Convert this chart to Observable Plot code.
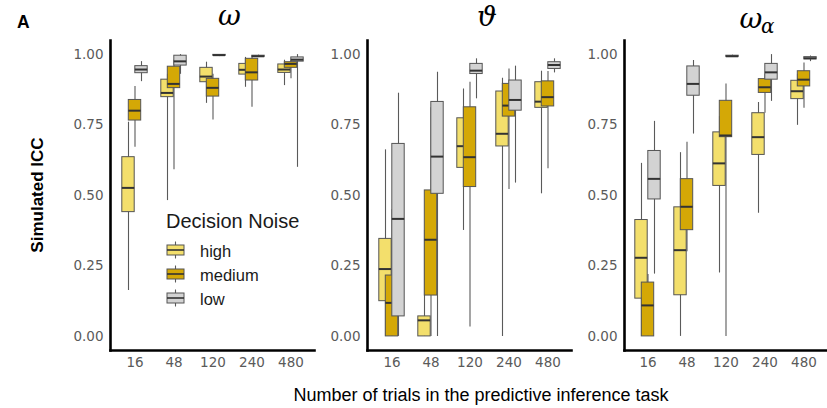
<!DOCTYPE html>
<html>
<head>
<meta charset="utf-8">
<script src="https://cdn.jsdelivr.net/npm/d3@7"></script>
<script src="https://cdn.jsdelivr.net/npm/@observablehq/plot@0.6"></script>
<style>
  body { margin: 0; background: #fff; }
  #chart { position: relative; width: 827px; height: 408px; overflow: hidden; }
  .panel { position: absolute; top: 0; }
  #overlay { position: absolute; left: 0; top: 0; }
</style>
</head>
<body>
<div id="chart">
  <div class="panel" id="p1" style="left:0px"></div>
  <div class="panel" id="p2" style="left:314px"></div>
  <div class="panel" id="p3" style="left:571px"></div>
  <svg id="overlay" width="827" height="408"></svg>
</div>
<script>
// ---- data ----
const trials = ["16", "48", "120", "240", "480"];
const levels = ["high", "medium", "low"];
const levelColors = ["#f3df6c", "#d4a806", "#d3d3d3"];
const yTicks = [0, 0.25, 0.5, 0.75, 1];
const panelTitles = ["ω", "ϑ", "ω"];
const panelSubscripts = ["", "", "α"];
const legendTitle = "Decision Noise";
const yLabel = "Simulated ICC";
const xLabel = "Number of trials in the predictive inference task";
const figureTag = "A";

// five-number summaries per trial: [min, q1, median, q3, max]
const omegaHigh   = [[0.163,0.441,0.527,0.636,0.760],[0.482,0.849,0.864,0.911,0.930],[0.827,0.902,0.922,0.953,0.973],[0.884,0.929,0.946,0.967,0.990],[0.890,0.935,0.947,0.965,0.980]];
const omegaMedium = [[0.671,0.766,0.801,0.839,0.887],[0.591,0.881,0.896,0.957,0.980],[0.768,0.851,0.882,0.914,0.930],[0.813,0.908,0.937,0.985,0.995],[0.914,0.953,0.967,0.973,0.980]];
const omegaLow    = [[0.904,0.934,0.947,0.959,0.975],[0.930,0.961,0.976,0.996,1.000],[0.993,0.996,0.998,0.999,1.000],[0.990,0.992,0.994,0.996,0.998],[0.600,0.975,0.982,0.990,1.000]];

const thetaHigh   = [[0.000,0.125,0.239,0.346,0.662],[0.000,0.000,0.057,0.071,0.376],[0.376,0.598,0.675,0.774,0.878],[0.000,0.674,0.719,0.869,0.916],[0.506,0.811,0.833,0.902,0.941]];
const thetaMedium = [[0.000,0.000,0.119,0.216,0.449],[0.000,0.145,0.343,0.518,0.811],[0.033,0.530,0.636,0.813,0.902],[0.521,0.780,0.819,0.896,0.949],[0.595,0.816,0.849,0.905,0.940]];
const thetaLow    = [[0.000,0.071,0.417,0.683,0.863],[0.000,0.506,0.638,0.832,0.937],[0.843,0.931,0.943,0.967,0.985],[0.544,0.801,0.839,0.908,0.959],[0.935,0.949,0.963,0.973,0.985]];

const alphaHigh   = [[0.000,0.134,0.279,0.413,0.614],[0.000,0.146,0.306,0.458,0.652],[0.225,0.534,0.614,0.724,0.780],[0.437,0.644,0.707,0.792,0.830],[0.749,0.842,0.870,0.907,0.930]];
const alphaMedium = [[0.000,0.000,0.110,0.191,0.220],[0.300,0.377,0.460,0.558,0.689],[0.000,0.707,0.713,0.836,0.896],[0.792,0.864,0.884,0.913,0.930],[0.810,0.887,0.911,0.941,0.970]];
const alphaLow    = [[0.221,0.486,0.559,0.658,0.763],[0.718,0.854,0.896,0.958,0.979],[0.990,0.992,0.994,0.996,0.998],[0.834,0.911,0.937,0.967,1.000],[0.975,0.983,0.987,0.991,0.995]];

// ---- build tables ----
function table(byLevel) {
  const rows = [];
  byLevel.forEach((arr, li) => {
    arr.forEach((s, ti) => {
      rows.push({trial: trials[ti], level: levels[li], min: s[0], q1: s[1], med: s[2], q3: s[3], max: s[4]});
    });
  });
  return rows;
}
const panels = [
  table([omegaHigh, omegaMedium, omegaLow]),
  table([thetaHigh, thetaMedium, thetaLow]),
  table([alphaHigh, alphaMedium, alphaLow])
];

// ---- drawing ----
const dodge = [-6.5, 0, 6.5];
const inset = 13.3;

function panelPlot(data, width, marginLeft) {
  return Plot.plot({
    width, height: 408,
    marginLeft, marginRight: 0, marginTop: 40, marginBottom: 58,
    style: {fontFamily: "'DejaVu Sans', sans-serif", fontSize: "13.5px", color: "#5a5a5a", background: "transparent", overflow: "visible"},
    x: {domain: trials, paddingInner: 0, paddingOuter: 0.1, tickSize: 0, tickPadding: 7, label: null},
    y: {domain: [-0.05, 1.05], ticks: yTicks, tickFormat: d3.format(".2f"), tickSize: 0, tickPadding: 7, label: null},
    marks: [
      ...levels.flatMap((lv, i) => {
        const d = data.filter(r => r.level === lv);
        return [
          Plot.ruleX(d, {x: "trial", y1: "min", y2: "max", dx: dodge[i], stroke: "#5a5a5a", strokeWidth: 1.1}),
          Plot.barY(d, {x: "trial", y1: "q1", y2: "q3", dx: dodge[i], fill: levelColors[i], stroke: "#555", strokeWidth: 1, insetLeft: inset, insetRight: inset}),
          Plot.tickY(d, {x: "trial", y: "med", dx: dodge[i], stroke: "#333", strokeWidth: 2, insetLeft: inset, insetRight: inset})
        ];
      }),
      Plot.frame({anchor: "left", stroke: "#000", strokeWidth: 2.6}),
      Plot.frame({anchor: "bottom", stroke: "#000", strokeWidth: 2.6})
    ]
  });
}

document.getElementById("p1").append(panelPlot(panels[0], 314, 110));
document.getElementById("p2").append(panelPlot(panels[1], 257, 53));
document.getElementById("p3").append(panelPlot(panels[2], 256, 53));

// ---- annotations and legend ----
const ov = d3.select("#overlay");
const sans = "'Liberation Sans', Arial, sans-serif";
const serif = "'DejaVu Serif', serif";

ov.append("text").attr("x", 17).attr("y", 28).attr("font-family", sans).attr("font-weight", "bold").attr("font-size", 17.5).attr("fill", "#000").text(figureTag);

ov.append("text").attr("transform", "translate(43,195) rotate(-90)").attr("text-anchor", "middle")
  .attr("font-family", sans).attr("font-weight", "bold").attr("font-size", 17).attr("fill", "#000").text(yLabel);

ov.append("text").attr("x", 481).attr("y", 401).attr("text-anchor", "middle")
  .attr("font-family", sans).attr("font-size", 18).attr("fill", "#000").text(xLabel);

const titleX = [229.5, 487, 751];
const titleY = [25, 26, 28];
panelTitles.forEach((t, i) => {
  ov.append("text").attr("x", titleX[i]).attr("y", titleY[i]).attr("text-anchor", "middle")
    .attr("font-family", serif).attr("font-style", "italic").attr("font-size", 28).attr("fill", "#000").text(t);
  if (panelSubscripts[i]) {
    ov.append("text").attr("x", 761).attr("y", 33).attr("font-family", serif).attr("font-style", "italic")
      .attr("font-size", 20).attr("fill", "#000").text(panelSubscripts[i]);
  }
});

const lg = ov.append("g");
lg.append("text").attr("x", 166).attr("y", 228).attr("font-family", sans).attr("font-size", 20).attr("fill", "#1a1a1a").text(legendTitle);
levels.forEach((lv, i) => {
  const cy = 250 + i * 24;
  lg.append("line").attr("x1", 175.5).attr("x2", 175.5).attr("y1", cy - 8.5).attr("y2", cy + 8.5).attr("stroke", "#5a5a5a").attr("stroke-width", 1.1);
  lg.append("rect").attr("x", 167).attr("y", cy - 5).attr("width", 17).attr("height", 10).attr("fill", levelColors[i]).attr("stroke", "#555").attr("stroke-width", 1);
  lg.append("line").attr("x1", 167).attr("x2", 184).attr("y1", cy).attr("y2", cy).attr("stroke", "#333").attr("stroke-width", 1.6);
  lg.append("text").attr("x", 200).attr("y", cy + 6.5).attr("font-family", sans).attr("font-size", 16.5).attr("fill", "#1a1a1a").text(lv);
});
</script>
</body>
</html>
